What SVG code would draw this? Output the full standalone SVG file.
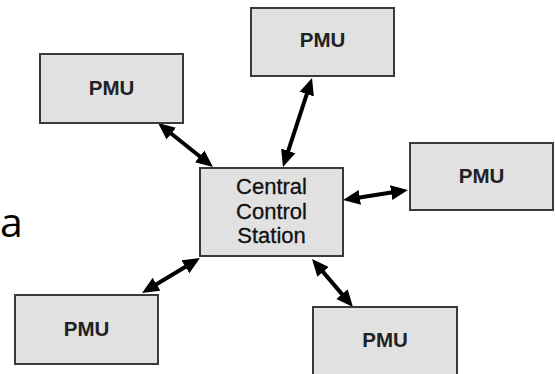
<svg xmlns="http://www.w3.org/2000/svg" width="555" height="374" viewBox="0 0 555 374">
  <style>
    .box { fill: #e1e1e1; stroke: #3a3a3a; stroke-width: 2; }
    .pmu { font-family: "Liberation Sans", Arial, sans-serif; font-weight: bold; font-size: 20.5px; fill: #222; text-anchor: middle; }
    .ccs { font-family: "Liberation Sans", Arial, sans-serif; font-size: 22px; fill: #111; text-anchor: middle; stroke: #111; stroke-width: 0.3; }
    .link { stroke: #000; stroke-width: 4; fill: none; marker-start: url(#head); marker-end: url(#head); }
  </style>
  <defs>
    <marker id="head" markerUnits="userSpaceOnUse" markerWidth="18" markerHeight="16" viewBox="0 0 18 16" refX="5" refY="8" orient="auto-start-reverse">
      <path d="M0,0.5 L17,8 L0,15.5 z" fill="#000"/>
    </marker>
  </defs>

  <rect width="555" height="374" fill="#fff"/>

  <!-- partial letter at the left edge -->
  <text x="0" y="237" font-family="'Open Sans', 'Liberation Sans', sans-serif" font-size="41" fill="#000">a</text>

  <g id="connectors">
    <line class="link" x1="167.4" y1="130.5" x2="203.6" y2="159.5"/>
    <line class="link" x1="308.3" y1="89.4" x2="286.7" y2="155.6"/>
    <line class="link" x1="354.9" y1="198.2" x2="396.1" y2="191.8"/>
    <line class="link" x1="152.3" y1="286.8" x2="189.7" y2="264.2"/>
    <line class="link" x1="319.8" y1="268.1" x2="345.2" y2="297.9"/>
  </g>

  <g id="central">
    <rect class="box" x="200" y="168" width="143" height="88"/>
    <text class="ccs" x="271.5" y="194">Central</text>
    <text class="ccs" x="271.5" y="219">Control</text>
    <text class="ccs" x="271.5" y="243">Station</text>
  </g>

  <g id="pmu-top-left">
    <rect class="box" x="40" y="54" width="143" height="69"/>
    <text class="pmu" x="111.5" y="95">PMU</text>
  </g>

  <g id="pmu-top">
    <rect class="box" x="251" y="8" width="143" height="68"/>
    <text class="pmu" x="322.5" y="47">PMU</text>
  </g>

  <g id="pmu-right">
    <rect class="box" x="410" y="143" width="143" height="67"/>
    <text class="pmu" x="481.5" y="183">PMU</text>
  </g>

  <g id="pmu-bottom-left">
    <rect class="box" x="15" y="295" width="143" height="69"/>
    <text class="pmu" x="86.5" y="336">PMU</text>
  </g>

  <g id="pmu-bottom-right">
    <rect class="box" x="313" y="307" width="144" height="72"/>
    <text class="pmu" x="385" y="347">PMU</text>
  </g>
</svg>
